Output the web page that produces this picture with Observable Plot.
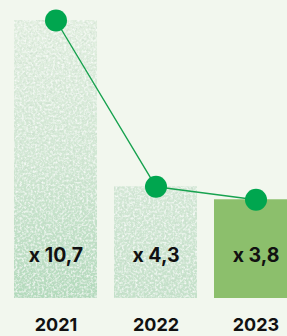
<!DOCTYPE html>
<html>
<head>
<meta charset="utf-8">
<script src="https://cdn.jsdelivr.net/npm/d3@7"></script>
<script src="https://cdn.jsdelivr.net/npm/@observablehq/plot@0.6"></script>
<style>
  html, body { margin: 0; padding: 0; background: #f2f7ee; overflow: hidden; }
</style>
</head>
<body>
<div id="chart"></div>
<script>
const years = ["2021", "2022", "2023"];
const values = [10.7, 4.3, 3.8];
const labels = ["x 10,7", "x 4,3", "x 3,8"];
const fills = ["url(#barGrad)", "url(#barGrad2)", "#8cbf6c"];

const data = years.map((y, i) => ({year: y, value: values[i], label: labels[i], fill: fills[i], tex: i < 2}));

const chart = Plot.plot({
  width: 287,
  height: 336,
  marginTop: 20,
  marginBottom: 38,
  marginLeft: 0,
  marginRight: 0,
  style: {background: "#f2f7ee", overflow: "hidden", fontFamily: "Inter, sans-serif"},
  x: {domain: years, range: [13, 299], paddingInner: 0.168, paddingOuter: 0, label: null},
  y: {domain: [0, 10.7], axis: null},
  marks: [
    Plot.barY(data, {x: "year", y: "value", fill: "fill", filter: d => d.tex, className: "tex"}),
    Plot.barY(data, {x: "year", y: "value", fill: "fill", filter: d => !d.tex}),
    Plot.line(data, {x: "year", y: "value", stroke: "#17a24f", strokeWidth: 1.4}),
    Plot.dot(data, {x: "year", y: "value", r: 11, fill: "#00a64f"}),
    Plot.text(data, {x: "year", text: "label", frameAnchor: "bottom", dy: -43, lineAnchor: "middle", fontSize: 19.5, fontWeight: "bold", fill: "#111"}),
    Plot.axisX({tickSize: 0, tickPadding: 20, fontSize: 18, fontWeight: "bold", fill: "#111", label: null})
  ]
});

const ns = "http://www.w3.org/2000/svg";
const defs = document.createElementNS(ns, "defs");
defs.innerHTML = `
  <linearGradient id="barGrad" x1="0" y1="0" x2="0" y2="1">
    <stop offset="0" stop-color="#e2efe0"/>
    <stop offset="0.5" stop-color="#d1e7d3"/>
    <stop offset="1" stop-color="#b2dabb"/>
  </linearGradient>
  <linearGradient id="barGrad2" x1="0" y1="0" x2="0" y2="1">
    <stop offset="0" stop-color="#d4e8d6"/>
    <stop offset="1" stop-color="#c4e1c9"/>
  </linearGradient>
  <filter id="noise" x="0" y="0" width="100%" height="100%">
    <feTurbulence type="fractalNoise" baseFrequency="0.45" numOctaves="2" seed="7" result="t"/>
    <feColorMatrix in="t" type="matrix" values="0 0 0 0 1  0 0 0 0 1  0 0 0 0 1  0 0 0 -1.8 1.05" result="w"/>
    <feComposite in="w" in2="SourceGraphic" operator="in" result="wm"/>
    <feTurbulence type="fractalNoise" baseFrequency="0.4" numOctaves="2" seed="21" result="t2"/>
    <feColorMatrix in="t2" type="matrix" values="0 0 0 0 0.55  0 0 0 0 0.68  0 0 0 0 0.58  0 0 0 -1.6 0.85" result="g"/>
    <feComposite in="g" in2="SourceGraphic" operator="in" result="gm"/>
    <feMerge><feMergeNode in="SourceGraphic"/><feMergeNode in="gm"/><feMergeNode in="wm"/></feMerge>
  </filter>`;
chart.insertBefore(defs, chart.firstChild);
chart.querySelectorAll(".tex rect").forEach(r => r.setAttribute("filter", "url(#noise)"));
document.getElementById("chart").appendChild(chart);
</script>
</body>
</html>
